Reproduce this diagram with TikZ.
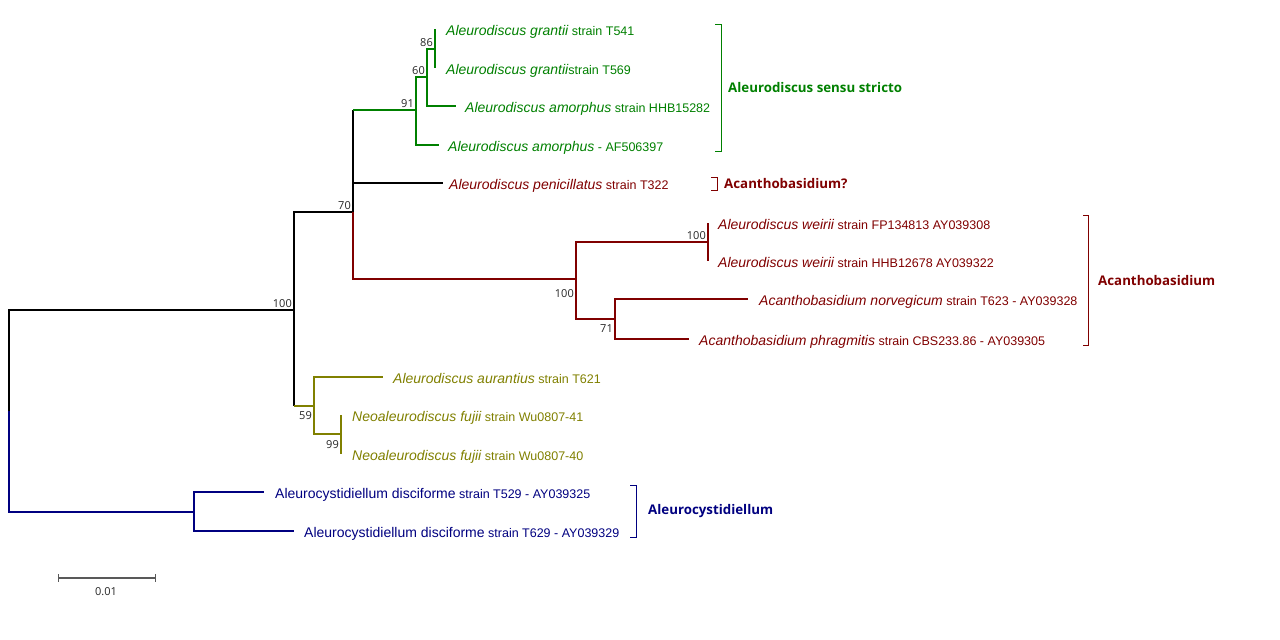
\documentclass[tikz,border=0pt]{standalone}
\usepackage{fontspec}
\setmainfont{Liberation Sans}
\newfontfamily\cladefont{Open Sans}
\newfontfamily\bootfont{Open Sans}
\usetikzlibrary{positioning}
\definecolor{asGreen}{RGB}{0,128,0}
\definecolor{acRed}{RGB}{128,0,0}
\definecolor{neOlive}{RGB}{128,128,0}
\definecolor{alBlue}{RGB}{0,0,128}
\newcommand{\taxon}[2]{{\fontsize{14}{16}\selectfont\itshape #1}{\fontsize{12.5}{15}\selectfont #2}}
\newcommand{\taxonup}[2]{{\fontsize{14}{16}\selectfont #1}{\fontsize{12.5}{15}\selectfont #2}}
\tikzset{
  leaf/.style={inner sep=0pt, text height=13pt, text depth=0pt},
  boot/.style={font=\bootfont\fontsize{11}{13}\selectfont, inner sep=2pt, text=black!85},
  clade/.style={anchor=west, inner sep=0pt, font=\cladefont\bfseries\fontsize{13.3}{16}\selectfont},
  branch/.style={line width=2pt},
  bracket/.style={line width=1pt}
}
\begin{document}
\begin{tikzpicture}[x=1pt,y=-1pt,node distance=10pt]
      \useasboundingbox (0,0) rectangle (1280,640);
      % internal nodes
      \coordinate (root) at (9,411);
      \coordinate (A) at (294,310);
      \coordinate (B) at (353,212);
      \coordinate (C) at (416,110);
      \coordinate (D) at (427,77);
      \coordinate (E) at (435,49);
      \coordinate (F) at (576,279);
      \coordinate (W) at (708,242);
      \coordinate (G) at (615,319);
      \coordinate (O) at (314,406);
      \coordinate (N) at (341,434);
      \coordinate (H) at (194,512);
      % leaf tips
      \coordinate (t1) at (435,29);
      \coordinate (t2) at (435,68);
      \coordinate (t3) at (456,106);
      \coordinate (t4) at (439,145);
      \coordinate (t5) at (443,183);
      \coordinate (t6) at (708,223);
      \coordinate (t7) at (708,261);
      \coordinate (t8) at (748,299);
      \coordinate (t9) at (689,339);
      \coordinate (t10) at (383,377);
      \coordinate (t11) at (341,415);
      \coordinate (t12) at (341,454);
      \coordinate (t13) at (264,492);
      \coordinate (t14) at (294,531);
      % leaf labels
      \node[leaf, text=asGreen, right=11pt of t1] (l1) {\taxon{Aleurodiscus grantii}{ strain T541}};
      \node[leaf, text=asGreen, right=11pt of t2] (l2) {\taxon{Aleurodiscus grantii}{strain T569}};
      \node[leaf, text=asGreen, right=9pt of t3] (l3) {\taxon{Aleurodiscus amorphus}{ strain HHB15282}};
      \node[leaf, text=asGreen, right=9pt of t4] (l4) {\taxon{Aleurodiscus amorphus}{ - AF506397}};
      \node[leaf, text=acRed, right=6pt of t5] (l5) {\taxon{Aleurodiscus penicillatus}{ strain T322}};
      \node[leaf, text=acRed, right=10pt of t6] (l6) {\taxon{Aleurodiscus weirii}{ strain FP134813 AY039308}};
      \node[leaf, text=acRed, right=10pt of t7] (l7) {\taxon{Aleurodiscus weirii}{ strain HHB12678 AY039322}};
      \node[leaf, text=acRed, right=11pt of t8] (l8) {\taxon{Acanthobasidium norvegicum}{ strain T623 - AY039328}};
      \node[leaf, text=acRed, right=10pt of t9] (l9) {\taxon{Acanthobasidium phragmitis}{ strain CBS233.86 - AY039305}};
      \node[leaf, text=neOlive, right=10pt of t10] (l10) {\taxon{Aleurodiscus aurantius}{ strain T621}};
      \node[leaf, text=neOlive, right=11pt of t11] (l11) {\taxon{Neoaleurodiscus fujii}{ strain Wu0807-41}};
      \node[leaf, text=neOlive, right=11pt of t12] (l12) {\taxon{Neoaleurodiscus fujii}{ strain Wu0807-40}};
      \node[leaf, text=alBlue, right=11pt of t13] (l13) {\taxonup{Aleurocystidiellum disciforme}{ strain T529 - AY039325}};
      \node[leaf, text=alBlue, right=10pt of t14] (l14) {\taxonup{Aleurocystidiellum disciforme}{ strain T629 - AY039329}};
      % branches
      \begin{scope}[branch]
        \draw (root) |- (A);
        \draw[alBlue] (root) |- (H);
        \draw (A) |- (B);
        \draw (A) -- (A |- O);
        \draw[neOlive] (A |- O) -- (O);
        \draw (B) -- (B |- C);
        \draw[asGreen] (B |- C) -- (C);
        \draw (B) |- (t5);
        \draw[acRed] (B) |- (F);
        \draw[asGreen] (C) |- (D);
        \draw[asGreen] (C) |- (t4);
        \draw[asGreen] (D) |- (E);
        \draw[asGreen] (D) |- (t3);
        \draw[asGreen] (E) |- (t1);
        \draw[asGreen] (E) |- (t2);
        \draw[acRed] (F) |- (W);
        \draw[acRed] (F) |- (G);
        \draw[acRed] (W) |- (t6);
        \draw[acRed] (W) |- (t7);
        \draw[acRed] (G) |- (t8);
        \draw[acRed] (G) |- (t9);
        \draw[neOlive] (O) |- (t10);
        \draw[neOlive] (O) |- (N);
        \draw[neOlive] (N) |- (t11);
        \draw[neOlive] (N) |- (t12);
        \draw[alBlue] (H) |- (t13);
        \draw[alBlue] (H) |- (t14);
      \end{scope}
      % support values
      \node[boot, above left] at (A) {100};
      \node[boot, above left] at (B) {70};
      \node[boot, above left] at (C) {91};
      \node[boot, above left] at (D) {60};
      \node[boot, above left] at (E) {86};
      \node[boot, above left] at (W) {100};
      \node[boot, below left, yshift=-8pt] at (F) {100};
      \node[boot, below left, yshift=-3pt] at (G) {71};
      \node[boot, below left, yshift=-3pt] at (O) {59};
      \node[boot, below left, yshift=-4pt] at (N) {99};
      % clade brackets
      \draw[asGreen, bracket] (715,24) -- (721,24) -- (721,151) -- (715,151);
      \node[clade, text=asGreen] (sensu) at (728,88) {Aleurodiscus sensu stricto};
      \draw[acRed, bracket] (711,177) -- (717,177) -- (717,190) -- (711,190);
      \node[clade, text=acRed] (acanthoq) at (724,184) {Acanthobasidium?};
      \draw[acRed, bracket] (1083,215) -- (1088,215) -- (1088,345) -- (1083,345);
      \node[clade, text=acRed] (acantho) at (1098,281) {Acanthobasidium};
      \draw[alBlue, bracket] (630,485) -- (636,485) -- (636,537) -- (630,537);
      \node[clade, text=alBlue] (cystid) at (648,511) {Aleurocystidiellum};
      % scale bar
      \draw[black!65, line width=1.2pt] (58,578) -- (155,578);
      \draw[black!65, line width=1pt] (58,574) -- (58,582) (155,574) -- (155,582);
      \node[font=\bootfont\fontsize{11}{13}\selectfont, text=black!85] (scale) at (106,592) {0.01};
    \end{tikzpicture}
\end{document}
